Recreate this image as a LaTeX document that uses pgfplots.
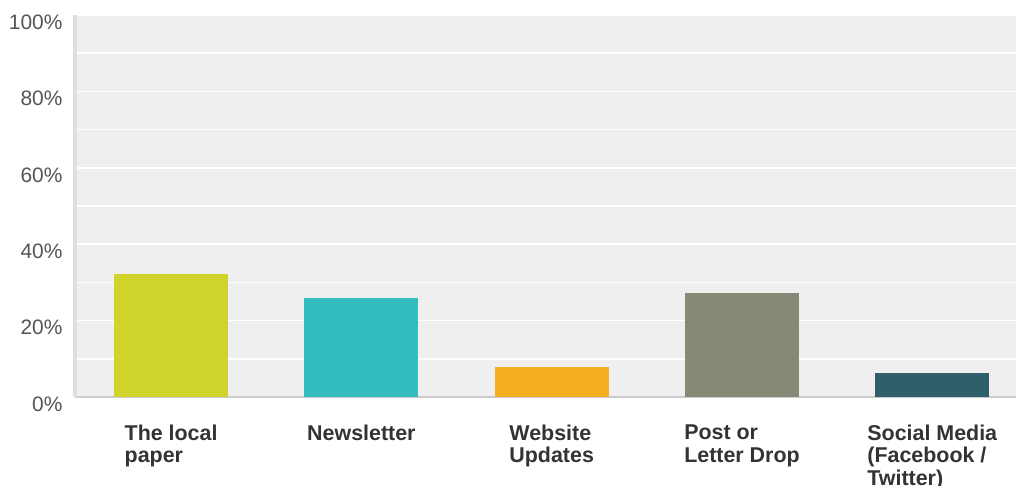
\documentclass[border=0pt]{standalone}
\usepackage{pgfplots}
\pgfplotsset{compat=1.18}
\usepackage{pgfplotstable}
\usepackage{fontspec}
\setmainfont{Liberation Sans}
\definecolor{bgc}{HTML}{EFEFEF}
\definecolor{c1}{HTML}{D0D42A}
\definecolor{c2}{HTML}{32BDC0}
\definecolor{c3}{HTML}{F5AF1E}
\definecolor{c4}{HTML}{888877}
\definecolor{c5}{HTML}{2E5F6B}
\definecolor{ticktxt}{HTML}{555555}
\definecolor{cattxt}{HTML}{333333}
\pgfplotstableread{
x y
0 32.2
}\tA
\pgfplotstableread{
x y
1 25.9
}\tB
\pgfplotstableread{
x y
2 7.8
}\tC
\pgfplotstableread{
x y
3 27.2
}\tD
\pgfplotstableread{
x y
4 6.2
}\tE
\begin{document}
\begin{tikzpicture}
\path[use as bounding box] (0,0) rectangle (1016bp,486bp);
\begin{axis}[
  at={(75bp,89bp)}, anchor=south west,
  scale only axis, width=941bp, height=382bp,
  xmin=-0.505, xmax=4.44, ymin=0, ymax=100,
  axis background/.style={fill=bgc},
  axis lines*=left,
  x axis line style={draw=black!20, line width=1.5bp},
  y axis line style={draw=black!13, line width=3bp},
  major tick length=0, minor tick length=0,
  ytick={0,20,...,100}, minor ytick={10,30,...,90},
  yticklabel={\pgfmathprintnumber{\tick}\%},
  ymajorgrids, yminorgrids, xmajorgrids=false,
  major grid style={draw=white, line width=1.5bp},
  minor grid style={draw=white, line width=1.5bp},
  xtick={0,1,2,3,4},
  xticklabels={{The local\\paper},{Newsletter},{Website\\Updates},{Post or\\Letter Drop},{Social Media\\(Facebook /\\Twitter)}},
  xticklabel style={align=left, font=\fontsize{21.5}{23}\selectfont\bfseries, text=cattxt, yshift=-24bp},
  yticklabel style={font=\fontsize{21}{23}\selectfont, text=ticktxt, yshift=-7bp, xshift=-9bp},
  /pgf/number format/assume math mode=true,
  ybar, bar width=114bp, bar shift=0pt,
]
\addplot[draw=none, fill=c1] table[x=x,y=y] {\tA};
\addplot[draw=none, fill=c2] table[x=x,y=y] {\tB};
\addplot[draw=none, fill=c3] table[x=x,y=y] {\tC};
\addplot[draw=none, fill=c4] table[x=x,y=y] {\tD};
\addplot[draw=none, fill=c5] table[x=x,y=y] {\tE};
\end{axis}
\end{tikzpicture}
\end{document}
